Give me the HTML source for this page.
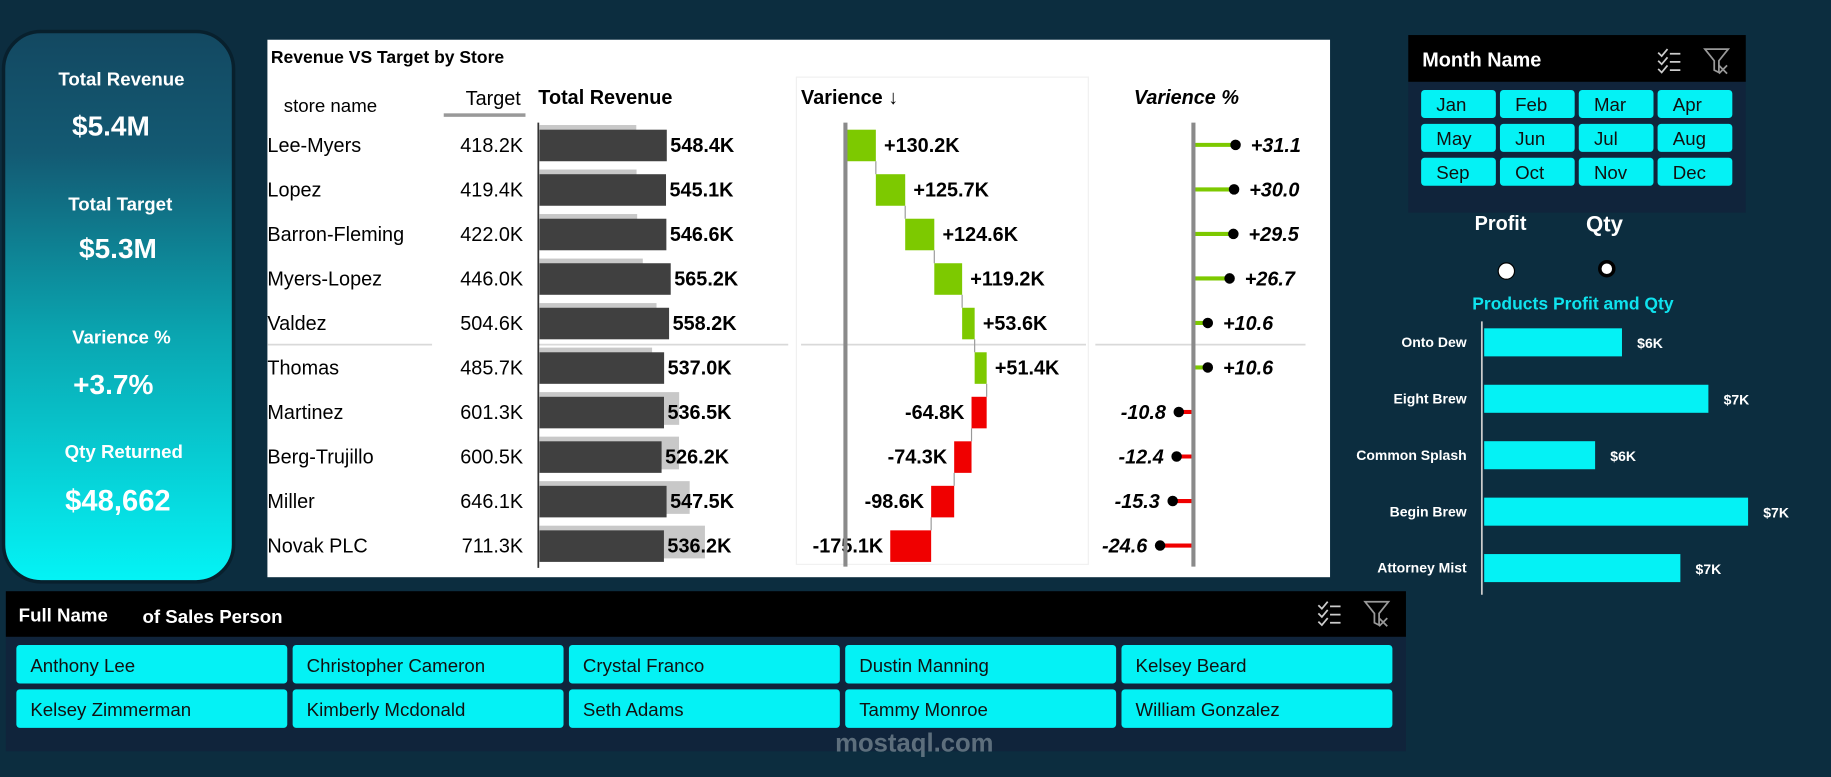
<!DOCTYPE html>
<html><head><meta charset="utf-8"><title>Revenue Dashboard</title>
<style>
html,body{margin:0;padding:0;background:#0c2d3f;width:1831px;height:777px;overflow:hidden}
svg{display:block}
text{font-family:"Liberation Sans",sans-serif}
.n{font-family:"Liberation Sans Narrow","Liberation Sans",sans-serif}
</style></head>
<body>
<svg id="dash" width="1831" height="777" viewBox="0 0 1568 665" preserveAspectRatio="none" xmlns="http://www.w3.org/2000/svg">
<defs>
<linearGradient id="kg" x1="0" y1="0" x2="0" y2="1">
<stop offset="0" stop-color="#134861"/><stop offset="0.22" stop-color="#135a73"/><stop offset="0.55" stop-color="#0aa5b0"/><stop offset="1" stop-color="#04f4f6"/>
</linearGradient>
</defs>
<rect width="1568" height="665" fill="#0c2d3f"/>
<g>
<rect x="3" y="27" width="197" height="471" rx="32" fill="url(#kg)" stroke="#08202d" stroke-width="3"/>
<g fill="#fff" font-weight="bold" text-anchor="middle">
<text x="104" y="73" font-size="16">Total Revenue</text>
<text x="95" y="116" font-size="24">$5.4M</text>
<text x="103" y="180" font-size="16">Total Target</text>
<text x="101" y="221" font-size="24">$5.3M</text>
<text x="104" y="294" font-size="16">Varience %</text>
<text x="97" y="337" font-size="24">+3.7%</text>
<text x="106" y="392" font-size="16">Qty Returned</text>
<text x="101" y="437" font-size="25">$48,662</text>
</g>
</g>
<g id="main">
<rect x="229" y="34" width="910" height="460" fill="#fff"/>
<text x="232" y="54" font-size="15" font-weight="bold" class="n">Revenue VS Target by Store</text>
<text x="243" y="96" font-size="16" class="n">store name</text>
<text x="446" y="90" font-size="17" class="n" text-anchor="end">Target</text>
<rect x="380" y="97" width="70" height="3" fill="#999"/>
<text x="461" y="89" font-size="17" font-weight="bold" class="n">Total Revenue</text>
<rect x="682" y="66" width="250" height="417" fill="none" stroke="#f0f0f0"/>
<text x="686" y="89" font-size="17" font-weight="bold" class="n">Varience ↓</text>
<text x="971" y="89" font-size="17" font-weight="bold" font-style="italic" class="n">Varience %</text>
<g stroke="#d9d9d9" stroke-width="1.5">
<line x1="229" y1="295" x2="370" y2="295"/><line x1="461" y1="295" x2="675" y2="295"/><line x1="686" y1="295" x2="930" y2="295"/><line x1="938" y1="295" x2="1118" y2="295"/>
</g>
<g id="rows"></g>
</g>
<g>
<rect x="1206" y="30" width="289" height="152" fill="#10243b"/>
<rect x="1206" y="30" width="289" height="40" fill="#000"/>
<text x="1218" y="57" font-size="17" font-weight="bold" fill="#fff">Month Name</text>
<g stroke="#ccc" stroke-width="1.5" fill="none"><path d="M1420 45l3 3 5-6M1420 52l3 3 5-6M1420 59l3 3 5-6M1430 46h9M1430 53h9M1430 60h9"/></g>
<g stroke="#999" stroke-width="1.5" fill="none"><path d="M1460 42h20l-8 10v10l-4-2v-8z M1472 56l7 7 M1479 56l-7 7"/></g>
<g id="months"></g>
</g>
<text x="1285" y="197" font-size="17" font-weight="bold" fill="#fff" text-anchor="middle">Profit</text>
<text x="1374" y="198" font-size="19" font-weight="bold" fill="#fff" text-anchor="middle">Qty</text>
<circle cx="1290" cy="232" r="7" fill="#fff" stroke="#000" stroke-width="1"/>
<circle cx="1376" cy="230" r="6" fill="#fff" stroke="#000" stroke-width="3"/>
<text x="1347" y="265" font-size="15" font-weight="bold" fill="#0fe3ee" text-anchor="middle">Products Profit amd Qty</text>
<g id="prod"></g>
<g>
<rect x="5" y="506" width="1199" height="137" fill="#10243b"/>
<rect x="5" y="506" width="1199" height="39" fill="#000"/>
<text x="16" y="532" font-size="16" font-weight="bold" fill="#fff">Full Name</text>
<text x="122" y="533" font-size="16" font-weight="bold" fill="#fff">of Sales Person</text>
<g stroke="#ccc" stroke-width="1.5" fill="none"><path d="M1129 518l3 3 5-6M1129 525l3 3 5-6M1129 532l3 3 5-6M1139 519h9M1139 526h9M1139 533h9"/></g>
<g stroke="#999" stroke-width="1.5" fill="none"><path d="M1169 515h20l-8 10v10l-4-2v-8z M1181 529l7 7 M1188 529l-7 7"/></g>
<g id="people"></g>
</g>
<text x="783" y="643" font-size="22" font-weight="bold" fill="#7f8f98" fill-opacity="0.7" text-anchor="middle">mostaql.com</text>
</svg>
<script>
const stores=["Lee-Myers","Lopez","Barron-Fleming","Myers-Lopez","Valdez","Thomas","Martinez","Berg-Trujillo","Miller","Novak PLC"];
const targets=[418.2,419.4,422.0,446.0,504.6,485.7,601.3,600.5,646.1,711.3];
const revenues=[548.4,545.1,546.6,565.2,558.2,537.0,536.5,526.2,547.5,536.2];
const variances=[130.2,125.7,124.6,119.2,53.6,51.4,-64.8,-74.3,-98.6,-175.1];
const variancePcts=[31.1,30.0,29.5,26.7,10.6,10.6,-10.8,-12.4,-15.3,-24.6];
const products=["Onto Dew","Eight Brew","Common Splash","Begin Brew","Attorney Mist"];
const profits=[6200,6940,5970,7280,6700];
const months=["Jan","Feb","Mar","Apr","May","Jun","Jul","Aug","Sep","Oct","Nov","Dec"];
const people=["Anthony Lee","Christopher Cameron","Crystal Franco","Dustin Manning","Kelsey Beard","Kelsey Zimmerman","Kimberly Mcdonald","Seth Adams","Tammy Monroe","William Gonzalez"];

const NS="http://www.w3.org/2000/svg";
function mk(p,tag,a,txt){const e=document.createElementNS(NS,tag);for(const k in a)e.setAttribute(k,a[k]);if(txt!==undefined)e.textContent=txt;p.appendChild(e);return e;}
const fmtK=v=>v.toFixed(1)+"K";
const sgn=v=>(v>=0?"+":"")+v.toFixed(1);
const rowY=i=>124+i*38.1;
const revX=v=>461+v*0.2006;
const varX=v=>724+v*0.2;
const pctX=v=>1022+v*1.16;
const prodX=v=>1271+(v-5020)*0.1;

const R=document.getElementById('rows');
mk(R,'line',{x1:461,y1:105,x2:461,y2:486,stroke:'#333','stroke-width':1.5});
let cum=0;
stores.forEach((s,i)=>{
  const y=rowY(i);
  let t=mk(R,'text',{x:229,y:y+6,'font-size':17,class:'n'},s);
  
  
  t=mk(R,'text',{x:448,y:y+6,'font-size':17,class:'n','text-anchor':'end'},fmtK(targets[i]));
  
  
  let b=mk(R,'rect',{x:462,y:y-17,width:revX(targets[i])-462,height:28,fill:'#c8c8c8'});
  
  
  b=mk(R,'rect',{x:462,y:y-13,width:revX(revenues[i])-462,height:27,fill:'#404040'});
  
  
  t=mk(R,'text',{x:revX(revenues[i])+3,y:y+6,'font-size':17,'font-weight':'bold',class:'n'},fmtK(revenues[i]));
  
  
  const v=variances[i];const x0=varX(cum),x1=varX(cum+v);
  b=mk(R,'rect',{x:Math.min(x0,x1),y:y-13,width:Math.abs(x1-x0),height:27,fill:v>=0?'#7dc900':'#f00000'});
  
  
  if(i<stores.length-1) mk(R,'line',{x1:x1,y1:y+14,x2:x1,y2:rowY(i+1)-13,stroke:'#999','stroke-width':1});
  t=mk(R,'text',{x:v>=0?Math.max(x0,x1)+7:Math.min(x0,x1)-6,y:y+6,'font-size':17,'font-weight':'bold',class:'n','text-anchor':v>=0?'start':'end'},(v>=0?"+":"")+fmtK(v));
  
  
  cum+=v;
  const p=variancePcts[i],px=pctX(p);
  mk(R,'line',{x1:1022,y1:y,x2:px,y2:y,stroke:p>=0?'#7dc900':'#f00000','stroke-width':3.5});
  b=mk(R,'circle',{cx:px,cy:y,r:4.5,fill:'#000'});
  
  
  t=mk(R,'text',{x:p>=0?px+13:px-11,y:y+6,'font-size':17,'font-weight':'bold','font-style':'italic',class:'n','text-anchor':p>=0?'start':'end'},sgn(p));
  
  
});
mk(R,'line',{x1:724,y1:105,x2:724,y2:485,stroke:'#8a8a8a','stroke-width':3.5});
mk(R,'line',{x1:1022,y1:105,x2:1022,y2:485,stroke:'#8a8a8a','stroke-width':3.5});

const M=document.getElementById('months');
months.forEach((m,i)=>{
  const c=i%4,r=Math.floor(i/4);const x=1217+c*67.5,y=77+r*29;
  const g=mk(M,'g',{});
  
  
  mk(g,'rect',{x:x,y:y,width:64,height:24,rx:3,fill:'#04f2f5'});
  mk(g,'text',{x:x+13,y:y+18,'font-size':16,fill:'#111'},m);
});
const P=document.getElementById('prod');
mk(P,'line',{x1:1269,y1:275,x2:1269,y2:509,stroke:'#ccc','stroke-width':1.5});
products.forEach((n,i)=>{
  const y=293+i*48.3;
  let t=mk(P,'text',{x:1256,y:y+4,'font-size':12,'font-weight':'bold',fill:'#fff','text-anchor':'end'},n);
  
  
  const b=mk(P,'rect',{x:1271,y:y-12,width:prodX(profits[i])-1271,height:24,fill:'#04f2f5'});
  
  
  t=mk(P,'text',{x:prodX(profits[i])+13,y:y+5,'font-size':12,'font-weight':'bold',fill:'#fff'},"$"+Math.round(profits[i]/1000)+"K");
  
  
});
const Q=document.getElementById('people');
people.forEach((n,i)=>{
  const c=i%5,r=Math.floor(i/5);const x=14+c*236.6,y=552+r*38;
  const g=mk(Q,'g',{});
  
  
  mk(g,'rect',{x:x,y:y,width:232,height:33,rx:3,fill:'#04f2f5'});
  mk(g,'text',{x:x+12,y:y+23,'font-size':16,fill:'#111'},n);
});
</script>
</body></html>
